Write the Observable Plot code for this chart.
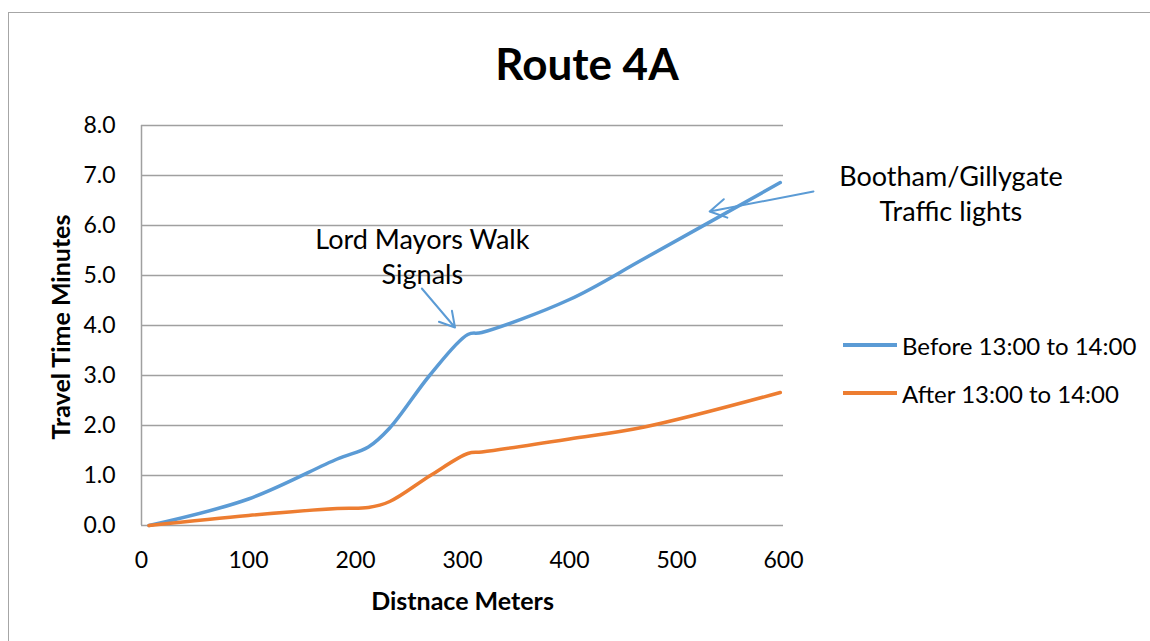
<!DOCTYPE html>
<html>
<head>
<meta charset="utf-8">
<script src="https://cdn.jsdelivr.net/npm/d3@7"></script>
<script src="https://cdn.jsdelivr.net/npm/@observablehq/plot@0.6"></script>
<style>
  html, body { margin: 0; padding: 0; background: #fff; }
  body { width: 1150px; height: 641px; position: relative; overflow: hidden; font-family: Lato, "Open Sans", sans-serif; }
  #frame { position: absolute; left: 8px; top: 12px; width: 1200px; height: 700px; border-left: 1.5px solid #a6a6a6; border-top: 1.5px solid #a6a6a6; box-sizing: border-box; }
  #chart { position: absolute; left: 0; top: 0; }
  #title { position: absolute; left: 0; width: 1174px; top: 41px; text-align: center; font-size: 44px; font-weight: bold; color: #000; line-height: 1; }
  #ytitle { position: absolute; left: 60px; top: 327px; transform: translate(-50%, -50%) rotate(-90deg); white-space: nowrap; font-size: 25px; font-weight: bold; color: #000; line-height: 1; }
  #legend { position: absolute; left: 843px; top: 329px; font-size: 24px; color: #000; }
  .item { display: flex; align-items: center; height: 32px; margin-bottom: 16px; }
  .swatch { width: 54px; height: 3.5px; margin-right: 5px; }
</style>
</head>
<body>
<div id="frame"></div>
<div id="chart"></div>
<div id="title">Route 4A</div>
<div id="ytitle">Travel Time Minutes</div>
<div id="legend"></div>
<script>
// Data
const distance = [7, 100, 183, 212, 232, 270, 305, 318, 400, 470, 597];
const before = [0, 0.53, 1.33, 1.57, 1.95, 3.02, 3.82, 3.86, 4.52, 5.34, 6.86];
const after  = [0, 0.20, 0.34, 0.36, 0.48, 1.00, 1.44, 1.47, 1.73, 1.97, 2.66];
const seriesNames = ["Before 13:00 to 14:00", "After 13:00 to 14:00"];
const seriesColors = ["#5B9BD5", "#ED7D31"];
const xTicks = [0, 100, 200, 300, 400, 500, 600];
const yTicks = [0, 1, 2, 3, 4, 5, 6, 7, 8];

// Annotations (in data units)
const notes = [
  {x: 262.5, y: 5.4, text: "Lord Mayors Walk\nSignals"},
  {x: 756.5, y: 6.67, text: "Bootham/Gillygate\nTraffic lights"}
];
const arrows = [
  {x1: 262, y1: 4.74, x2: 293, y2: 3.96},
  {x1: 628, y1: 6.68, x2: 531, y2: 6.28}
];

const rows = [];
distance.forEach((d, i) => {
  rows.push({series: seriesNames[0], x: d, y: before[i]});
  rows.push({series: seriesNames[1], x: d, y: after[i]});
});

const chart = Plot.plot({
  width: 1150,
  height: 641,
  marginLeft: 141,
  marginRight: 367,
  marginTop: 125,
  marginBottom: 116,
  style: {fontFamily: "Lato, 'Open Sans', sans-serif", fontSize: "23px", color: "#000", background: "transparent"},
  x: {domain: [0, 600]},
  y: {domain: [0, 8]},
  color: {domain: seriesNames, range: seriesColors},
  marks: [
    Plot.ruleY(yTicks, {stroke: "#a0a0a0", strokeWidth: 1.5}),
    Plot.ruleX([0], {stroke: "#a0a0a0", strokeWidth: 1.5}),
    Plot.axisY({ticks: yTicks, tickSize: 0, tickPadding: 26, tickFormat: d3.format(".1f"), label: null, fontSize: 23}),
    Plot.axisX({ticks: xTicks, tickSize: 0, tickPadding: 26, label: null, fontSize: 23}),
    Plot.line(rows, {x: "x", y: "y", z: "series", stroke: "series", strokeWidth: 3.5, curve: "catmull-rom"}),
    Plot.arrow(arrows, {x1: "x1", y1: "y1", x2: "x2", y2: "y2", stroke: "#5B9BD5", strokeWidth: 2, headLength: 14, bend: 0}),
    Plot.text(notes, {x: "x", y: "y", text: "text", fontSize: 27, lineHeight: 1.3, lineAnchor: "middle", textAnchor: "middle", fill: "#000"}),
    Plot.text(["Distnace Meters"], {frameAnchor: "bottom", dy: 84, fontWeight: "bold", fontSize: 25, fill: "#000"})
  ]
});
document.getElementById("chart").appendChild(chart);

const legend = document.getElementById("legend");
seriesNames.forEach((name, i) => {
  const item = document.createElement("div");
  item.className = "item";
  const sw = document.createElement("span");
  sw.className = "swatch";
  sw.style.background = seriesColors[i];
  const label = document.createElement("span");
  label.textContent = name;
  item.appendChild(sw);
  item.appendChild(label);
  legend.appendChild(item);
});
</script>
</body>
</html>
